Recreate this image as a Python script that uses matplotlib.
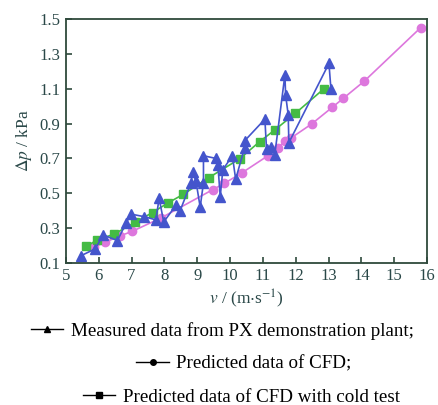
import matplotlib
matplotlib.use("Agg")
import matplotlib.pyplot as plt
from matplotlib.lines import Line2D

# measured data from PX demonstration plant (order as connected)
meas_v = [5.45, 5.89, 6.14, 6.57, 6.84, 6.98, 7.39, 7.74, 7.84, 7.98, 8.35, 8.48,
          8.81, 8.86, 8.96, 9.09, 9.19, 9.19, 9.56, 9.63, 9.70, 9.78, 10.07, 10.17,
          10.44, 10.44, 11.06, 11.11, 11.26, 11.36, 11.67, 11.69, 11.77, 11.79,
          13.01, 13.07]
meas_dp = [0.14, 0.18, 0.26, 0.228, 0.33, 0.38, 0.365, 0.347, 0.47, 0.335, 0.43, 0.40,
           0.56, 0.62, 0.57, 0.42, 0.56, 0.715, 0.70, 0.66, 0.48, 0.635, 0.715, 0.58,
           0.76, 0.80, 0.925, 0.752, 0.767, 0.72, 1.18, 1.065, 0.95, 0.79,
           1.245, 1.10]

# predicted data of CFD
cfd_v = [5.86, 6.18, 6.65, 7.01, 7.90, 9.47, 9.83, 10.37, 11.16, 11.46, 11.67, 11.84,
         12.48, 13.11, 13.45, 14.09, 15.80]
cfd_dp = [0.19, 0.217, 0.255, 0.28, 0.358, 0.52, 0.557, 0.618, 0.716, 0.762, 0.80, 0.815,
          0.897, 0.993, 1.045, 1.144, 1.45]

# predicted data of CFD with cold test
cold_v = [5.62, 5.94, 6.47, 7.11, 7.64, 8.10, 8.58, 9.35, 10.29, 10.90, 11.36, 11.99, 12.86]
cold_dp = [0.194, 0.23, 0.265, 0.333, 0.389, 0.443, 0.494, 0.589, 0.697, 0.796, 0.863, 0.959, 1.10]

labels = ["Measured data from PX demonstration plant;",
          "Predicted data of CFD;",
          "Predicted data of CFD with cold test"]

plt.rcParams['font.family'] = ['Liberation Serif', 'DejaVu Serif']
plt.rcParams['mathtext.fontset'] = 'stix'

axis_col = '#2f4a3c'
text_col = '#2a4848'

fig = plt.figure(figsize=(4.39, 4.05), dpi=100)
ax = fig.add_axes([0.150, 0.351, 0.823, 0.602])

ax.plot(cfd_v, cfd_dp, color='#dd77dd', lw=1.2, marker='o', ms=6)
ax.plot(cold_v, cold_dp, color='#44bb44', lw=1.2, marker='s', ms=6)
ax.plot(meas_v, meas_dp, color='#4455cc', lw=1.2, marker='^', ms=6.5)

ax.set_xlim(5, 16)
ax.set_ylim(0.1, 1.5)
ax.set_xticks(range(5, 17))
ax.set_yticks([0.1, 0.3, 0.5, 0.7, 0.9, 1.1, 1.3, 1.5])
ax.set_yticklabels(['0.1', '0.3', '0.5', '0.7', '0.9', '1.1', '1.3', '1.5'])

for s in ax.spines.values():
    s.set_color(axis_col)
    s.set_linewidth(1.3)
ax.tick_params(direction='in', length=4, width=1.2, color=axis_col,
               labelcolor=text_col, labelsize=12, pad=4)

ax.set_xlabel(r'$v$ / (m$\cdot$s$^{-1}$)', fontsize=12.5, color=text_col, labelpad=2)
ax.set_ylabel(r'$\Delta p$ / kPa', fontsize=12.5, color=text_col, labelpad=4)

markers = ['^', 'o', 's']
ys = [0.183, 0.101, 0.020]
xs = [0.507, 0.556, 0.55]
for lab, m, y, x in zip(labels, markers, ys, xs):
    h = Line2D([], [], color='black', lw=1.0, marker=m, ms=4)
    fig.legend([h], [lab], loc='center', bbox_to_anchor=(x, y), frameon=False,
               fontsize=13.7, handlelength=1.7, handletextpad=0.4)

fig.savefig('out.png', dpi=100)
